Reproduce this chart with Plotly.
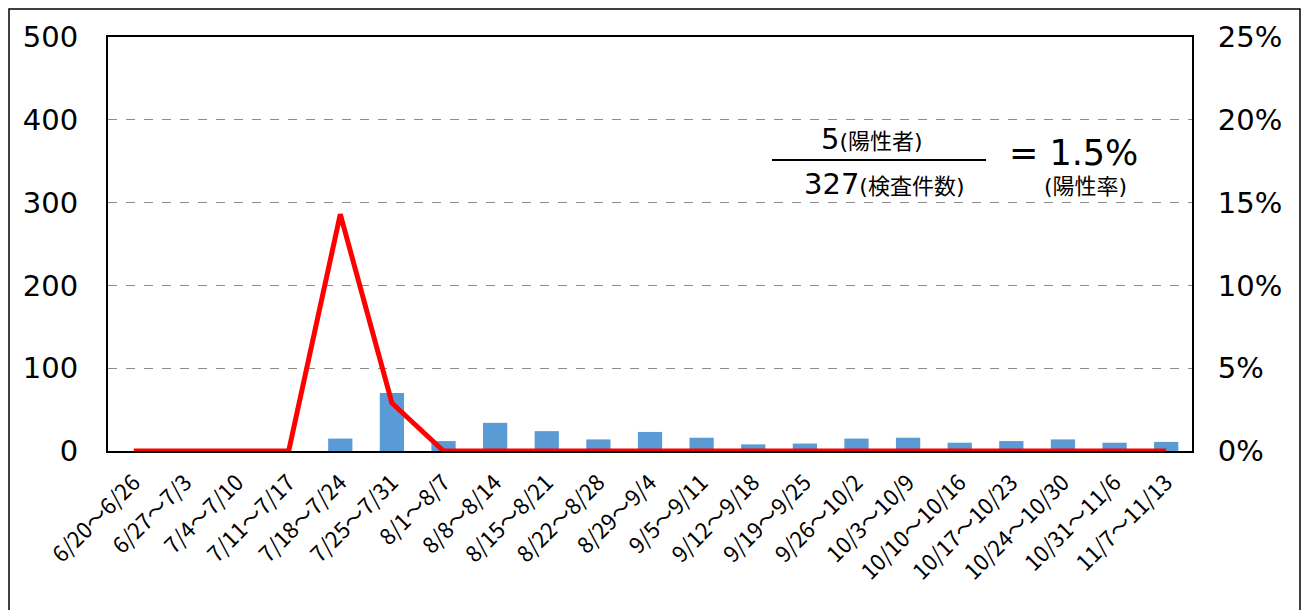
import plotly.graph_objects as go

categories = ["6/20～6/26", "6/27～7/3", "7/4～7/10", "7/11～7/17", "7/18～7/24",
              "7/25～7/31", "8/1～8/7", "8/8～8/14", "8/15～8/21", "8/22～8/28",
              "8/29～9/4", "9/5～9/11", "9/12～9/18", "9/19～9/25", "9/26～10/2",
              "10/3～10/9", "10/10～10/16", "10/17～10/23", "10/24～10/30",
              "10/31～11/6", "11/7～11/13"]
tests = [0, 0, 0, 0, 15, 70, 12, 34, 24, 14, 23, 16, 8, 9, 15, 16, 10, 12, 14, 10, 11]
positive_rate = [0, 0, 0, 0, 14.3, 2.9, 0, 0, 0, 0, 0, 0, 0, 0, 0, 0, 0, 0, 0, 0, 0]
left_ticks = [0, 100, 200, 300, 400, 500]
right_ticks = [0, 5, 10, 15, 20, 25]

fig = go.Figure()
fig.add_trace(go.Bar(x=categories, y=tests, marker=dict(color="#5B9BD5", line=dict(width=0)),
                     name="検査件数", yaxis="y"))
fig.add_trace(go.Scatter(x=categories, y=positive_rate, mode="lines",
                         line=dict(color="#FF0000", width=5), name="陽性率", yaxis="y2"))

fig.update_layout(
    width=1301, height=602,
    margin=dict(l=100, r=117, t=29, b=159),
    plot_bgcolor="white", paper_bgcolor="white",
    showlegend=False, bargap=0.53,
    font=dict(family="DejaVu Sans, Noto Sans CJK JP", color="black"),
    xaxis=dict(tickangle=-45, tickfont=dict(size=22, family="Noto Sans CJK JP"),
               showline=True, linecolor="black", linewidth=2, mirror=True,
               ticks="outside", ticklen=8, tickcolor="rgba(0,0,0,0)",
               showgrid=False, automargin=False),
    yaxis=dict(range=[0, 500], tickvals=left_ticks, tickfont=dict(size=29),
               showgrid=True, gridcolor="#8c8c8c", griddash="dash", gridwidth=1,
               showline=True, linecolor="black", linewidth=2, zeroline=False,
               ticks="", ticklabelstandoff=22, automargin=False),
    yaxis2=dict(range=[0, 25], tickvals=right_ticks, ticktext=[f"{v}%" for v in right_ticks],
                overlaying="y", side="right", tickfont=dict(size=29), showgrid=False,
                showline=True, linecolor="black", linewidth=2, zeroline=False, ticks="",
                ticklabelstandoff=18, automargin=False),
)

# outer border
fig.add_shape(type="rect", xref="paper", yref="paper",
              x0=(9 - 108) / 1084, x1=(1300 - 108) / 1084,
              y0=(451 - 620) / 414, y1=(451 - 9) / 414,
              line=dict(color="black", width=1.5), layer="below")
# fraction line
fig.add_shape(type="line", xref="paper", yref="paper",
              x0=(772 - 108) / 1084, x1=(986 - 108) / 1084,
              y0=(451 - 160) / 414, y1=(451 - 160) / 414,
              line=dict(color="black", width=2))

cjk = "Noto Sans CJK JP"
ann = dict(xref="paper", yref="paper", showarrow=False, xanchor="center", yanchor="middle")
fig.add_annotation(x=(872 - 108) / 1084, y=(451 - 139) / 414,
                   text="<span style='font-size:29px'>5</span>(陽性者)",
                   font=dict(size=22, family="DejaVu Sans, " + cjk), **ann)
fig.add_annotation(x=(884 - 108) / 1084, y=(451 - 184) / 414,
                   text="<span style='font-size:29px'>327</span>(検査件数)",
                   font=dict(size=22, family="DejaVu Sans, " + cjk), **ann)
fig.add_annotation(x=(1073 - 108) / 1084, y=(451 - 153) / 414,
                   text="= 1.5%",
                   font=dict(size=35, family="DejaVu Sans"), **ann)
fig.add_annotation(x=(1085 - 108) / 1084, y=(451 - 186) / 414,
                   text="(陽性率)",
                   font=dict(size=22, family="DejaVu Sans, " + cjk), **ann)

fig.write_html("out.html")
